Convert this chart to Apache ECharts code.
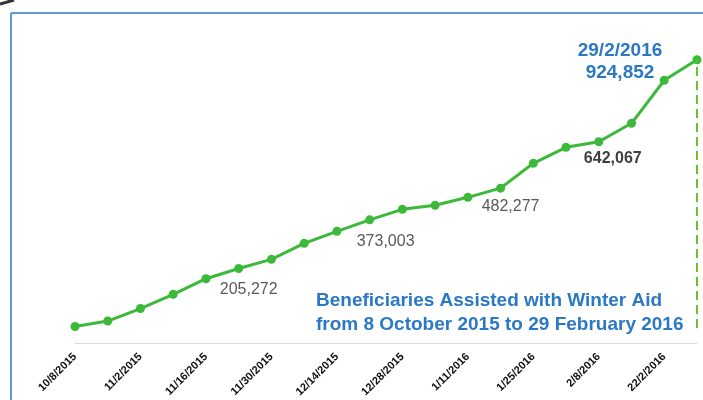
<!DOCTYPE html>
<html>
<head>
<meta charset="utf-8">
<script src="https://cdn.jsdelivr.net/npm/echarts@6/dist/echarts.min.js"></script>
<style>
  html, body { margin: 0; padding: 0; background: #fff; }
  #main { width: 703px; height: 400px; }
</style>
</head>
<body>
<div id="main"></div>
<script>
// weekly cumulative beneficiaries, winter aid
var categories = ['10/8/2015', '', '11/2/2015', '', '11/16/2015', '', '11/30/2015', '', '12/14/2015', '',
  '12/28/2015', '', '1/11/2016', '', '1/25/2016', '', '2/8/2016', '', '22/2/2016', '29/2/2016'];
var beneficiaries = [5000, 24000, 67100, 116000, 170000, 205272, 236700, 292000, 333300, 373003,
  409200, 423000, 450600, 482277, 567900, 623100, 642067, 705900, 854300, 924852];
var labelledIdx = [5, 9, 13, 16, 19];
var titleLines = ['Beneficiaries Assisted with Winter Aid', 'from 8 October 2015 to 29 February 2016'];

var blue = '#2b78c5';
var green = '#3cb93a';

function fmt(v) {
  return v.toString().replace(/\B(?=(\d{3})+(?!\d))/g, ',');
}

// label placement per labelled point (relative to symbol box)
var labelStyles = {
  5: { position: [14.5, 26], color: '#595959', fontWeight: 'normal', fontSize: 16 },
  9: { position: [20.5, 26.5], color: '#595959', fontWeight: 'normal', fontSize: 16 },
  13: { position: [14.5, 22.5], color: '#595959', fontWeight: 'normal', fontSize: 16 },
  16: { position: [18.5, 21.5], color: '#404040', fontWeight: 'bold', fontSize: 16 },
  19: { position: [-72.5, 6], color: blue, fontWeight: 'bold', fontSize: 19, lineHeight: 22 }
};

var seriesData = beneficiaries.map(function (v, i) {
  if (labelledIdx.indexOf(i) < 0) return v;
  var s = labelStyles[i];
  var txt = i === 19 ? categories[i] + '\n' + fmt(v) : fmt(v);
  return {
    value: v,
    label: {
      show: true,
      formatter: txt,
      position: s.position,
      align: 'center',
      verticalAlign: 'middle',
      color: s.color,
      fontWeight: s.fontWeight,
      fontSize: s.fontSize,
      lineHeight: s.lineHeight || 18
    }
  };
});

var chart = echarts.init(document.getElementById('main'));
var option = {
  backgroundColor: '#fff',
  animation: false,
  textStyle: { fontFamily: 'Liberation Sans, Arial, sans-serif' },
  title: {
    text: titleLines.join('\n'),
    left: 316,
    top: 289,
    padding: 0,
    textStyle: {
      color: blue,
      fontSize: 19,
      fontWeight: 'bold',
      lineHeight: 24
    }
  },
  grid: { left: 75, right: 6, top: 38, bottom: 72 },
  xAxis: {
    type: 'category',
    data: categories,
    boundaryGap: false,
    offset: 15,
    axisLine: { onZero: false, lineStyle: { color: '#dcdcdc', width: 1 } },
    axisTick: { show: false },
    axisLabel: {
      interval: function (i) { return i % 2 === 0; },
      rotate: 45,
      margin: 12,
      fontSize: 11,
      fontWeight: 'bold',
      color: '#111'
    }
  },
  yAxis: {
    type: 'value',
    min: 0,
    max: 1000000,
    show: false,
    splitLine: { show: false }
  },
  graphic: [
    { type: 'line', shape: { x1: 11, y1: 13, x2: 703, y2: 13 }, style: { stroke: '#5b9bd5', lineWidth: 2 } },
    { type: 'line', shape: { x1: 11, y1: 13, x2: 11, y2: 400 }, style: { stroke: '#5b9bd5', lineWidth: 2 } },
    { type: 'line', shape: { x1: 0, y1: 4, x2: 14, y2: 0 }, style: { stroke: '#333', lineWidth: 3 } }
  ],
  series: [{
    type: 'line',
    data: seriesData,
    symbol: 'circle',
    symbolSize: 9,
    lineStyle: { color: green, width: 3 },
    itemStyle: { color: green },
    markLine: {
      silent: true,
      symbol: 'none',
      label: { show: false },
      lineStyle: { color: '#6cc22e', width: 2, type: [9, 5] },
      data: [[
        { coord: [categories[19], 0] },
        { coord: [categories[19], beneficiaries[19]] }
      ]]
    }
  }]
};
chart.setOption(option);
</script>
</body>
</html>
